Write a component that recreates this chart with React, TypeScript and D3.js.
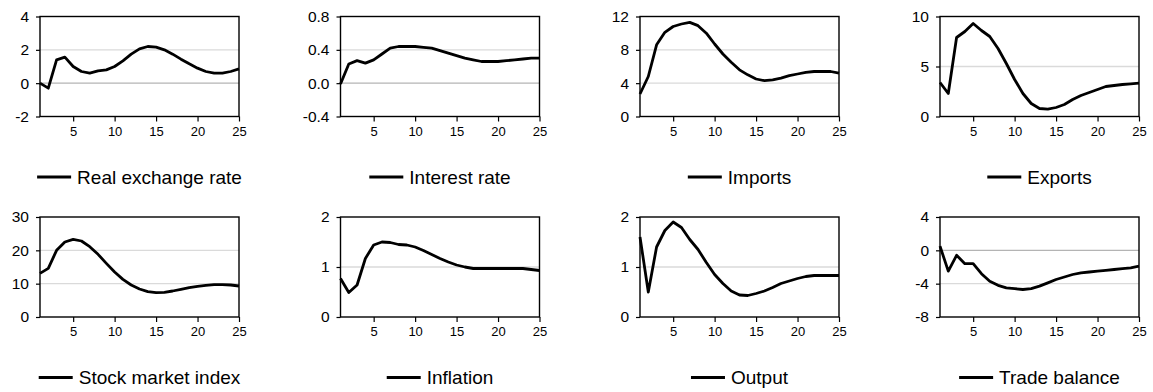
import React, { useEffect, useRef } from "react";
import * as d3 from "d3";

// Horizon (periods 1..25)
const periods: number[] = d3.range(1, 26);

const realExchangeRate = [0, -0.3, 1.4, 1.56, 1.0, 0.7, 0.6, 0.74, 0.8, 1.0, 1.34, 1.74, 2.06, 2.2, 2.16, 2.0, 1.74, 1.44, 1.16, 0.9, 0.7, 0.6, 0.6, 0.7, 0.86];
const interestRate = [-0.01, 0.23, 0.27, 0.24, 0.28, 0.35, 0.42, 0.44, 0.44, 0.44, 0.43, 0.42, 0.39, 0.36, 0.33, 0.3, 0.28, 0.26, 0.26, 0.26, 0.27, 0.28, 0.29, 0.3, 0.3];
const imports = [2.7, 4.8, 8.6, 10.1, 10.8, 11.1, 11.3, 10.9, 10.0, 8.7, 7.5, 6.5, 5.6, 5.0, 4.5, 4.3, 4.4, 4.6, 4.9, 5.1, 5.3, 5.4, 5.4, 5.4, 5.2];
const exports = [3.4, 2.3, 7.9, 8.5, 9.3, 8.6, 8.0, 6.8, 5.3, 3.7, 2.3, 1.3, 0.8, 0.73, 0.9, 1.2, 1.7, 2.1, 2.4, 2.7, 3.0, 3.1, 3.2, 3.27, 3.33];
const stockMarketIndex = [13.1, 14.6, 20, 22.5, 23.3, 22.8, 21.1, 18.8, 16.1, 13.5, 11.3, 9.6, 8.4, 7.6, 7.3, 7.4, 7.8, 8.3, 8.8, 9.2, 9.5, 9.7, 9.7, 9.6, 9.3];
const inflation = [0.77, 0.49, 0.64, 1.17, 1.44, 1.5, 1.49, 1.45, 1.44, 1.4, 1.33, 1.25, 1.17, 1.1, 1.04, 1.0, 0.97, 0.97, 0.97, 0.97, 0.97, 0.97, 0.97, 0.95, 0.93];
const output = [1.6, 0.5, 1.4, 1.73, 1.9, 1.79, 1.55, 1.35, 1.09, 0.85, 0.67, 0.52, 0.44, 0.43, 0.47, 0.52, 0.59, 0.67, 0.72, 0.77, 0.81, 0.83, 0.83, 0.83, 0.83];
const tradeBalance = [0.5, -2.5, -0.6, -1.6, -1.6, -2.8, -3.7, -4.2, -4.5, -4.6, -4.7, -4.6, -4.3, -3.9, -3.5, -3.2, -2.9, -2.7, -2.6, -2.5, -2.4, -2.3, -2.2, -2.1, -1.9];

const seriesNames = [
  "Real exchange rate", "Interest rate", "Imports", "Exports",
  "Stock market index", "Inflation", "Output", "Trade balance",
];
const seriesValues = [
  realExchangeRate, interestRate, imports, exports,
  stockMarketIndex, inflation, output, tradeBalance,
];
const yTickValues: number[][] = [
  [-2, 0, 2, 4],
  [-0.4, 0, 0.4, 0.8],
  [0, 4, 8, 12],
  [0, 5, 10],
  [0, 10, 20, 30],
  [0, 1, 2],
  [0, 1, 2],
  [-8, -4, 0, 4],
];
const yTickFormats = ["d", ".1f", "d", "d", "d", "d", "d", "d"];
const xTickValues = [5, 10, 15, 20, 25];

const W = 1153;
const H = 392;
const FONT = "'Liberation Sans', Arial, Helvetica, sans-serif";

export default function App() {
  const ref = useRef<SVGSVGElement | null>(null);

  useEffect(() => {
    const svg = d3.select(ref.current);
    svg.selectAll("*").remove();

    const colLeft = [40, 340.5, 640, 940];
    const rowTop = [16.5, 217];
    const pw = 199;
    const ph = 100;

    seriesValues.forEach((vals, i) => {
      const col = i % 4;
      const row = Math.floor(i / 4);
      const ticks = yTickValues[i];
      const x0 = colLeft[col];
      const y0 = rowTop[row];

      const x = d3.scaleLinear().domain([1, 25]).range([x0, x0 + pw]);
      const y = d3.scaleLinear().domain([ticks[0], ticks[ticks.length - 1]]).range([y0 + ph, y0]);

      const g = svg.append("g");

      // horizontal grid lines at inner ticks; zero line drawn darker
      g.selectAll("line.grid")
        .data(ticks.slice(1, -1))
        .join("line")
        .attr("class", "grid")
        .attr("x1", x0)
        .attr("x2", x0 + pw)
        .attr("y1", (d) => y(d))
        .attr("y2", (d) => y(d))
        .attr("stroke", (d) => (d === 0 ? "#b4b4b4" : "#dadada"))
        .attr("stroke-width", 1.3);

      // response line
      const line = d3
        .line<number>()
        .x((_, j) => x(periods[j]))
        .y((d) => y(d));
      g.append("path")
        .attr("d", line(vals))
        .attr("fill", "none")
        .attr("stroke", "#000")
        .attr("stroke-width", 2.8)
        .attr("stroke-linejoin", "round");

      // frame
      g.append("rect")
        .attr("x", x0)
        .attr("y", y0)
        .attr("width", pw)
        .attr("height", ph)
        .attr("fill", "none")
        .attr("stroke", "#000")
        .attr("stroke-width", 1.4);

      // y axis (plain hyphen for negatives)
      const fmt = d3.format(yTickFormats[i]);
      const yAxis = d3
        .axisLeft(y)
        .tickValues(ticks)
        .tickSize(4)
        .tickPadding(7)
        .tickFormat((d) => fmt(d as number).replace("\u2212", "-"));
      const ya = g.append("g").attr("transform", `translate(${x0},0)`).call(yAxis);
      ya.select(".domain").remove();
      ya.selectAll(".tick line").attr("stroke", "#000").attr("stroke-width", 1.2);
      ya.selectAll(".tick text")
        .attr("font-family", FONT)
        .attr("font-size", 15.5)
        .attr("fill", "#000");

      // x axis
      const xAxis = d3.axisBottom(x).tickValues(xTickValues).tickSize(5).tickPadding(5).tickFormat(d3.format("d"));
      const xa = g.append("g").attr("transform", `translate(0,${y0 + ph})`).call(xAxis);
      xa.select(".domain").remove();
      xa.selectAll(".tick line").attr("stroke", "#000").attr("stroke-width", 1.2);
      xa.selectAll(".tick text")
        .attr("font-family", FONT)
        .attr("font-size", 13)
        .attr("fill", "#000");

      // legend, centred under the panel
      const legendY = row === 0 ? 183.5 : 384;
      const lg = g.append("g");
      const keyLen = 34;
      const gap = 6;
      const label = lg
        .append("text")
        .attr("font-family", FONT)
        .attr("font-size", 19)
        .attr("fill", "#000")
        .attr("y", legendY)
        .text(seriesNames[i]);
      const tw = (label.node() as SVGTextElement).getComputedTextLength();
      const total = keyLen + gap + tw;
      const start = x0 + pw / 2 - total / 2;
      label.attr("x", start + keyLen + gap);
      lg.append("line")
        .attr("x1", start)
        .attr("x2", start + keyLen)
        .attr("y1", legendY - 6.5)
        .attr("y2", legendY - 6.5)
        .attr("stroke", "#000")
        .attr("stroke-width", 2.8);
    });
  }, []);

  return (
    <svg
      ref={ref}
      width={W}
      height={H}
      style={{ display: "block", position: "absolute", left: 0, top: 0, background: "#fff" }}
    />
  );
}
